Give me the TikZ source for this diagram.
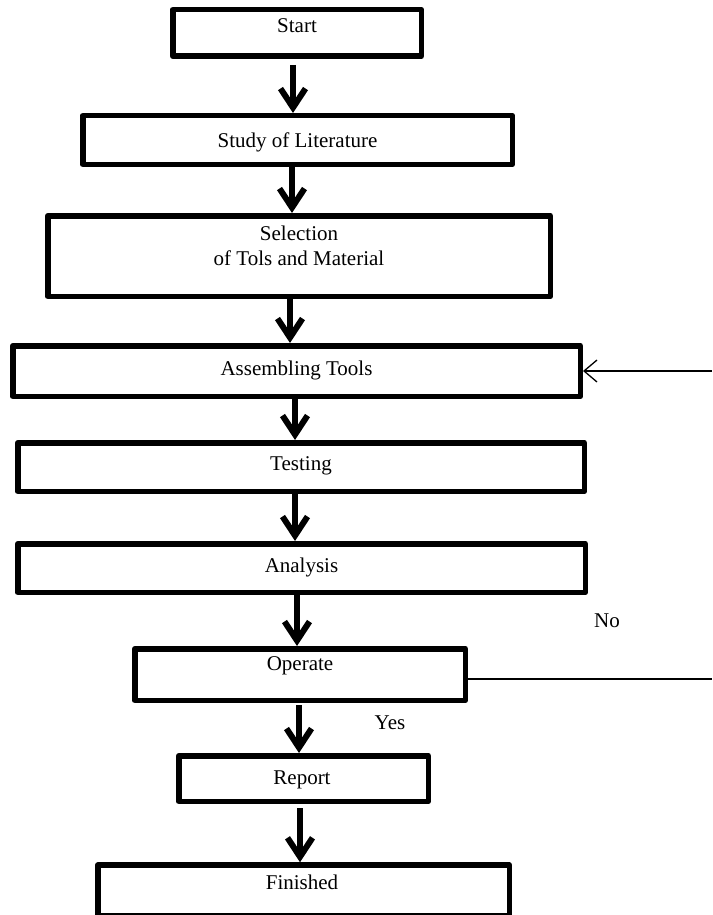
\documentclass[tikz,border=0pt]{standalone}
\usepackage{fontspec}
\setmainfont{Liberation Serif}
\usetikzlibrary{arrows.meta}
\begin{document}
\begin{tikzpicture}[x=1pt,y=-1pt,
  box/.style={draw, line width=5.5pt, line join=round, rectangle, inner sep=0pt},
  txt/.style={anchor=base, inner sep=0pt, font=\fontsize{21}{25}\selectfont, align=center},
  arr/.style={line width=6pt, -{Straight Barb[length=19pt,width=25pt]}},
  thinarr/.style={line width=1.3pt, -{Straight Barb[length=13pt,width=22pt]}},
  thin/.style={line width=1.3pt}]
\useasboundingbox (0,0) rectangle (712,915);
% boxes
\node[box, minimum width=248.5pt, minimum height=46.5pt] (start) at (297,33) {};
\node[box, minimum width=429.5pt, minimum height=48.5pt] (study) at (297.5,140) {};
\node[box, minimum width=502.5pt, minimum height=80.5pt] (select) at (299,256) {};
\node[box, minimum width=567.5pt, minimum height=50.5pt] (assem) at (296.5,371) {};
\node[box, minimum width=566.5pt, minimum height=48.5pt] (test) at (301,467) {};
\node[box, minimum width=567.5pt, minimum height=48.5pt] (anal) at (301.5,568) {};
\node[box, minimum width=330.5pt, minimum height=51.5pt] (oper) at (300,674.5) {};
\node[box, minimum width=249.5pt, minimum height=45.5pt] (report) at (303.5,778.5) {};
\node[box, minimum width=411.5pt, minimum height=51pt] (finish) at (303.5,890.5) {};
% texts
\node[txt] (tstart) at (297,33) {Start};
\node[txt] (tstudy) at (297.5,147) {Study of Literature};
\node[txt] (tsel1) at (299,240) {Selection};
\node[txt] (tsel2) at (299,265) {of Tols and Material};
\node[txt] (tassem) at (296.5,375) {Assembling Tools};
\node[txt] (ttest) at (301,470) {Testing};
\node[txt] (tanal) at (301.5,572) {Analysis};
\node[txt] (toper) at (300,670) {Operate};
\node[txt] (treport) at (302,784) {Report};
\node[txt] (tfinish) at (302,889) {Finished};
\node[txt] (no) at (607,627) {No};
\node[txt] (yes) at (390,729) {Yes};
% arrow x positions
\coordinate (x1) at (293,0);
\coordinate (x2) at (292,0);
\coordinate (x3) at (290,0);
\coordinate (x4) at (295,0);
\coordinate (x5) at (295,0);
\coordinate (x6) at (297,0);
\coordinate (x7) at (299,0);
\coordinate (x8) at (300,0);
\coordinate (r1) at (712,371);
\coordinate (r2) at (712,679);
% arrows
\draw[arr, shorten <=6pt] (start.south -| x1) -- (study.north -| x1);
\draw[arr] (study.south -| x2) -- (select.north -| x2);
\draw[arr] (select.south -| x3) -- (assem.north -| x3);
\draw[arr] (assem.south -| x4) -- (test.north -| x4);
\draw[arr] (test.south -| x5) -- (anal.north -| x5);
\draw[arr] (anal.south -| x6) -- (oper.north -| x6);
\draw[arr, shorten <=2pt] (oper.south -| x7) -- (report.north -| x7);
\draw[arr, shorten <=4pt] (report.south -| x8) -- (finish.north -| x8);
% feedback lines
\draw[thinarr] (r1) -- (assem.east |- r1);
\draw[thin] (oper.east |- r2) -- (r2);
\end{tikzpicture}
\end{document}
